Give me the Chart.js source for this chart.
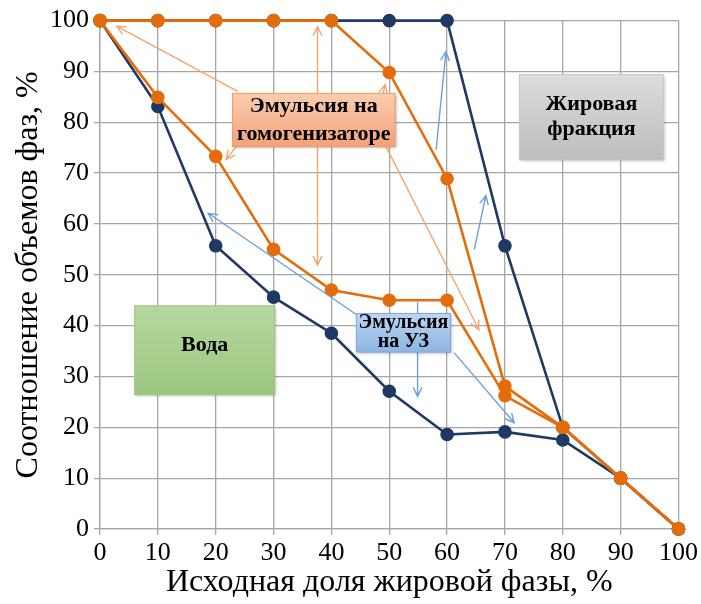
<!DOCTYPE html>
<html>
<head>
<meta charset="utf-8">
<script src="https://cdn.jsdelivr.net/npm/chart.js@4"></script>
<style>
  html, body { margin: 0; padding: 0; background: #fff; }
  #wrap { width: 701px; height: 604px; }
</style>
</head>
<body>
<div id="wrap"><canvas id="phaseChart"></canvas></div>
<script>
// исходная доля жировой фазы, %
const fatShare = [0, 10, 20, 30, 40, 50, 60, 70, 80, 90, 100];
// эмульсия на УЗ (две ветви)
const uzUpper = [100, 100, 100, 100, 100, 100, 100, 55.7, 20, 10, 0];
const uzLower = [100, 83.1, 55.7, 45.6, 38.5, 27.1, 18.6, 19.1, 17.5, 10, 0];
// эмульсия на гомогенизаторе (две ветви)
const homUpper = [100, 100, 100, 100, 100, 89.8, 68.9, 28.1, 20, 10, 0];
const homLower = [100, 84.9, 73.3, 55, 47, 45, 45, 26.2, 20, 10, 0];
const yTicks = [0, 10, 20, 30, 40, 50, 60, 70, 80, 90, 100];

const colorNavy = '#1F3864';
const colorOrange = '#E46C0A';
const serif = '"Liberation Serif", "DejaVu Serif", serif';

function pts(ys) {
    return fatShare.map((x, i) => ({ x: x, y: ys[i] }));
}

function series(label, ys, color) {
    return {
        label: label,
        data: pts(ys),
        borderColor: color,
        backgroundColor: color,
        borderWidth: 2.6,
        pointRadius: 5.5,
        pointHoverRadius: 5.5,
        tension: 0,
        clip: false
    };
}

// подписи-выноски и стрелки (в координатах данных)
const labelBoxes = [
    { lines: ['Эмульсия на', 'гомогенизаторе'], x1: 22.9, x2: 51.0, y1: 85.7, y2: 75.2,
      top: '#F9CDB0', bottom: '#F3A27A', border: '#F29A62', size: 22, lh: 28 },
    { lines: ['Жировая', 'фракция'], x1: 72.5, x2: 97.4, y1: 89.4, y2: 72.6,
      top: '#DCDCDC', bottom: '#BDBDBD', border: '#C8C8C8', size: 22, lh: 25 },
    { lines: ['Вода'], x1: 6.0, x2: 30.2, y1: 43.9, y2: 26.4,
      top: '#B6D7A0', bottom: '#9CC67F', border: '#9CC67F', size: 22, lh: 22, dy: -5 },
    { lines: ['Эмульсия', 'на УЗ'], x1: 44.3, x2: 60.6, y1: 42.4, y2: 34.8,
      top: '#BCD5F1', bottom: '#8EB5E2', border: '#7AA7DB', size: 20, lh: 19 }
];
const orangeArrows = [
    [23.8, 86.1, 2.9, 98.9],
    [24.1, 76.0, 21.8, 72.7],
    [37.6, 80.0, 37.6, 98.8],
    [37.6, 80.0, 37.6, 51.9],
    [48.6, 84.0, 49.3, 87.4],
    [49.4, 75.3, 65.5, 39.2]
];
const blueArrows = [
    [44.3, 42.2, 18.7, 62.1],
    [54.9, 44.6, 54.9, 26.1],
    [61.2, 34.7, 71.6, 20.9],
    [58.1, 74.6, 59.8, 93.9],
    [64.7, 55.0, 66.7, 65.6]
];

const calloutPlugin = {
    id: 'callouts',
    afterDatasetsDraw(chart) {
        const ctx = chart.ctx;
        const xs = chart.scales.x, ys = chart.scales.y;
        function arrow(a, color) {
            const x1 = xs.getPixelForValue(a[0]), y1 = ys.getPixelForValue(a[1]);
            const x2 = xs.getPixelForValue(a[2]), y2 = ys.getPixelForValue(a[3]);
            const ang = Math.atan2(y2 - y1, x2 - x1);
            const len = 10, spread = 0.45;
            ctx.save();
            ctx.strokeStyle = color;
            ctx.lineWidth = 1.4;
            ctx.beginPath();
            ctx.moveTo(x1, y1);
            ctx.lineTo(x2, y2);
            ctx.moveTo(x2 - len * Math.cos(ang - spread), y2 - len * Math.sin(ang - spread));
            ctx.lineTo(x2, y2);
            ctx.lineTo(x2 - len * Math.cos(ang + spread), y2 - len * Math.sin(ang + spread));
            ctx.stroke();
            ctx.restore();
        }
        orangeArrows.forEach(a => arrow(a, '#F5A56E'));
        blueArrows.forEach(a => arrow(a, '#6E9FD8'));

        labelBoxes.forEach(b => {
            const l = xs.getPixelForValue(b.x1), r = xs.getPixelForValue(b.x2);
            const t = ys.getPixelForValue(b.y1), btm = ys.getPixelForValue(b.y2);
            ctx.save();
            const g = ctx.createLinearGradient(0, t, 0, btm);
            g.addColorStop(0, b.top);
            g.addColorStop(1, b.bottom);
            ctx.shadowColor = 'rgba(0,0,0,0.3)';
            ctx.shadowBlur = 3;
            ctx.shadowOffsetX = 1.5;
            ctx.shadowOffsetY = 1.5;
            ctx.fillStyle = g;
            ctx.fillRect(l, t, r - l, btm - t);
            ctx.shadowColor = 'transparent';
            ctx.strokeStyle = b.border;
            ctx.lineWidth = 1;
            ctx.strokeRect(l, t, r - l, btm - t);
            ctx.fillStyle = '#000';
            ctx.font = 'bold ' + b.size + 'px ' + serif;
            ctx.textAlign = 'center';
            ctx.textBaseline = 'middle';
            const cy = (t + btm) / 2 + (b.dy || 0) - (b.lines.length - 1) * b.lh / 2;
            b.lines.forEach((s, i) => ctx.fillText(s, (l + r) / 2, cy + i * b.lh));
            ctx.restore();
        });
    }
};

new Chart(document.getElementById('phaseChart').getContext('2d'), {
    type: 'line',
    data: {
        // первые наборы рисуются поверх последующих
        datasets: [
            series('Гомогенизатор, верхняя ветвь', homUpper, colorOrange),
            series('Гомогенизатор, нижняя ветвь', homLower, colorOrange),
            series('УЗ, верхняя ветвь', uzUpper, colorNavy),
            series('УЗ, нижняя ветвь', uzLower, colorNavy)
        ]
    },
    options: {
        responsive: true,
        maintainAspectRatio: false,
        animation: false,
        layout: { padding: { left: 0, right: 21, top: 17, bottom: 0 } },
        scales: {
            x: {
                type: 'linear',
                min: 0,
                max: 100,
                afterFit: s => { s.height = 75; },
                ticks: {
                    stepSize: 10,
                    color: '#000',
                    padding: 3,
                    font: { family: serif, size: 26 }
                },
                grid: { color: '#A6A6A6', lineWidth: 1.3, tickLength: 6 },
                border: { color: '#A6A6A6', width: 1.3 },
                title: {
                    display: true,
                    text: 'Исходная доля жировой фазы, %',
                    color: '#000',
                    padding: { top: 2, bottom: 2 },
                    font: { family: serif, size: 32 }
                }
            },
            y: {
                min: 0,
                max: 100,
                afterFit: s => { s.width = 100; },
                afterBuildTicks: s => { s.ticks = yTicks.map(v => ({ value: v })); },
                ticks: {
                    color: '#000',
                    padding: 5,
                    font: { family: serif, size: 26 }
                },
                grid: { color: '#A6A6A6', lineWidth: 1.3, tickLength: 6 },
                border: { color: '#A6A6A6', width: 1.3 },
                title: {
                    display: true,
                    text: 'Соотношение объемов фаз, %',
                    color: '#000',
                    padding: { top: 9, bottom: 9 },
                    font: { family: serif, size: 32 }
                }
            }
        },
        plugins: {
            legend: { display: false },
            tooltip: { enabled: false }
        }
    },
    plugins: [calloutPlugin]
});
</script>
</body>
</html>
